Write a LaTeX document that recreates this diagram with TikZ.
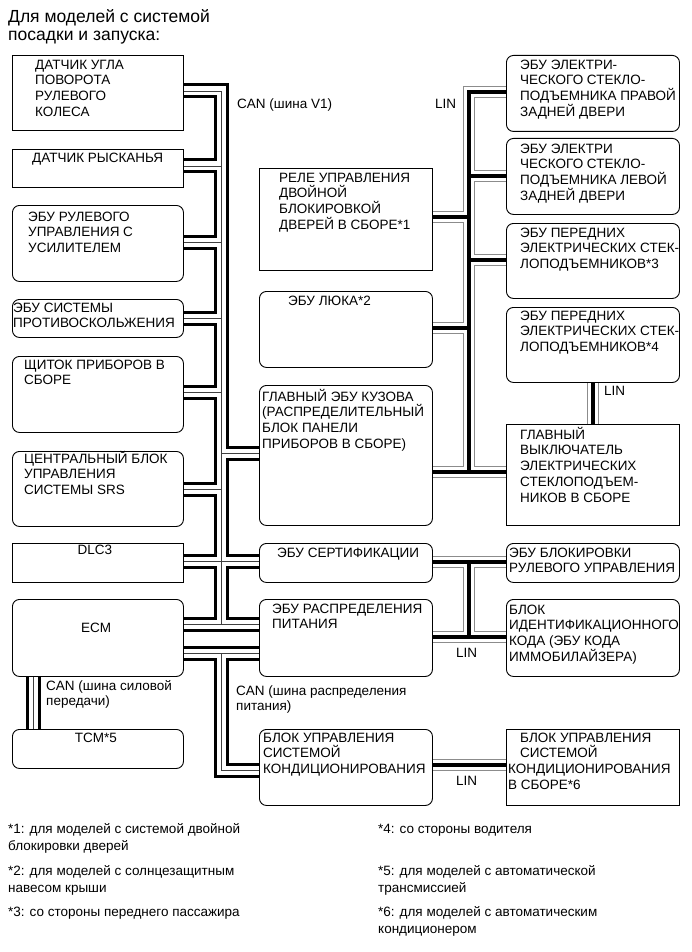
\documentclass[tikz,border=0pt]{standalone}
\usepackage{fontspec}
\setmainfont{Liberation Sans}
\usetikzlibrary{backgrounds}
\newcommand\bfs{\fontsize{13.5}{15.7}\selectfont}
\newcommand\Z{\rule{0pt}{13pt}}
\newcommand\ZT{\rule{0pt}{15pt}}
\begin{document}
\begin{tikzpicture}[x=1pt,y=-1pt,
 box/.style={draw=black, fill=white, line width=0.9pt, inner sep=0, anchor=north west},
 rbox/.style={box, rounded corners=7pt},
 txt/.style={anchor=north west, align=left, inner sep=0, font=\bfs},
 stxt/.style={anchor=base west, inner sep=0, font=\bfs},
 ctxt/.style={anchor=base, inner sep=0, font=\bfs},
 fn/.style={anchor=north west, align=left, inner sep=0, font=\fontsize{13.5}{17}\selectfont},
 ttl/.style={anchor=north west, align=left, inner sep=0, font=\fontsize{17.5}{18.5}\selectfont},
 canB/.style={line width=15pt, black},
 canW/.style={line width=9pt, white},
 canC/.style={line width=0.9pt, black!75},
 linB/.style={line width=12pt, black!45},
 linW/.style={line width=10.2pt, white},
 linC/.style={line width=3.6pt, black},
]
\useasboundingbox (0,0) rectangle (691,952);

% left column
\node[box,  minimum width=171pt, minimum height=75pt] (b1) at (12,55) {};
\node[box,  minimum width=171pt, minimum height=38pt] (b2) at (12,149) {};
\node[rbox, minimum width=171pt, minimum height=76pt] (b3) at (12,205) {};
\node[rbox, minimum width=171pt, minimum height=38pt] (b4) at (12,299) {};
\node[rbox, minimum width=171pt, minimum height=76pt] (b5) at (12,356) {};
\node[rbox, minimum width=171pt, minimum height=75pt] (b6) at (12,451) {};
\node[box,  minimum width=171pt, minimum height=39pt] (b7) at (12,543) {};
\node[rbox, minimum width=171pt, minimum height=77pt] (b8) at (12,599) {};
\node[rbox, minimum width=171pt, minimum height=39pt] (b9) at (12,729) {};
% middle column
\node[box,  minimum width=173pt, minimum height=102pt] (mA) at (259,168) {};
\node[rbox, minimum width=173pt, minimum height=76pt] (mB) at (259,291) {};
\node[rbox, minimum width=173pt, minimum height=140pt] (mC) at (259,385) {};
\node[rbox, minimum width=173pt, minimum height=39pt] (mD) at (259,543) {};
\node[rbox, minimum width=173pt, minimum height=77pt] (mE) at (259,599) {};
\node[rbox, minimum width=173pt, minimum height=76pt] (mF) at (259,729) {};
% right column
\node[rbox, minimum width=173pt, minimum height=76pt] (r1) at (506,55) {};
\node[rbox, minimum width=173pt, minimum height=76pt] (r2) at (506,138) {};
\node[rbox, minimum width=173pt, minimum height=75pt] (r3) at (506,223) {};
\node[rbox, minimum width=173pt, minimum height=75pt] (r4) at (506,307) {};
\node[box,  minimum width=173pt, minimum height=101pt] (r5) at (506,424) {};
\node[rbox, minimum width=173pt, minimum height=39pt] (r6) at (506,543) {};
\node[rbox, minimum width=173pt, minimum height=77pt] (r7) at (506,599) {};
\node[box,  minimum width=173pt, minimum height=76pt] (r8) at (506,729) {};

% texts
\node[ttl] (title) at (8,7) {\ZT Для моделей с системой\\посадки и запуска:};
\node[txt] (tb1) at (35,56) {\Z ДАТЧИК УГЛА\\ПОВОРОТА\\РУЛЕВОГО\\КОЛЕСА};
\node[txt] (tb2) at (32,149) {\Z ДАТЧИК РЫСКАНЬЯ};
\node[txt] (tb3) at (28,208) {\Z ЭБУ РУЛЕВОГО\\УПРАВЛЕНИЯ С\\УСИЛИТЕЛЕМ};
\node[txt] (tb4) at (13,299) {\Z ЭБУ СИСТЕМЫ\\ПРОТИВОСКОЛЬЖЕНИЯ};
\node[txt] (tb5) at (24,356) {\Z ЩИТОК ПРИБОРОВ В\\СБОРЕ};
\node[txt] (tb6) at (24,450) {\Z ЦЕНТРАЛЬНЫЙ БЛОК\\УПРАВЛЕНИЯ\\СИСТЕМЫ SRS};
\node[ctxt] (tb7) at (95,554) {DLC3};
\node[ctxt] (tb8) at (96,632) {ECM};
\node[ctxt] (tb9) at (96,742) {TCM*5};
\node[txt] (tmA) at (279,169) {\Z РЕЛЕ УПРАВЛЕНИЯ\\ДВОЙНОЙ\\БЛОКИРОВКОЙ\\ДВЕРЕЙ В СБОРЕ*1};
\node[txt] (tmB) at (288,292) {\Z ЭБУ ЛЮКА*2};
\node[txt] (tmC) at (262,388) {\Z ГЛАВНЫЙ ЭБУ КУЗОВА\\(РАСПРЕДЕЛИТЕЛЬНЫЙ\\БЛОК ПАНЕЛИ\\ПРИБОРОВ В СБОРЕ)};
\node[txt] (tmD) at (277,544) {\Z ЭБУ СЕРТИФИКАЦИИ};
\node[txt] (tmE) at (272,600) {\Z ЭБУ РАСПРЕДЕЛЕНИЯ\\ПИТАНИЯ};
\node[txt] (tmF) at (263,729) {\Z БЛОК УПРАВЛЕНИЯ\\СИСТЕМОЙ\\КОНДИЦИОНИРОВАНИЯ};
\node[txt] (tr1) at (520,56) {\Z ЭБУ ЭЛЕКТРИ-\\ЧЕСКОГО СТЕКЛО-\\ПОДЪЕМНИКА ПРАВОЙ\\ЗАДНЕЙ ДВЕРИ};
\node[txt] (tr2) at (520,140) {\Z ЭБУ ЭЛЕКТРИ\\ЧЕСКОГО СТЕКЛО-\\ПОДЪЕМНИКА ЛЕВОЙ\\ЗАДНЕЙ ДВЕРИ};
\node[txt] (tr3) at (520,224) {\Z ЭБУ ПЕРЕДНИХ\\ЭЛЕКТРИЧЕСКИХ СТЕК-\\ЛОПОДЪЕМНИКОВ*3};
\node[txt] (tr4) at (520,307) {\Z ЭБУ ПЕРЕДНИХ\\ЭЛЕКТРИЧЕСКИХ СТЕК-\\ЛОПОДЪЕМНИКОВ*4};
\node[txt] (tr5) at (520,426) {\Z ГЛАВНЫЙ\\ВЫКЛЮЧАТЕЛЬ\\ЭЛЕКТРИЧЕСКИХ\\СТЕКЛОПОДЪЕМ-\\НИКОВ В СБОРЕ};
\node[txt] (tr6) at (509,544) {\Z ЭБУ БЛОКИРОВКИ\\РУЛЕВОГО УПРАВЛЕНИЯ};
\node[txt] (tr7) at (509,601) {\Z БЛОК\\ИДЕНТИФИКАЦИОННОГО\\КОДА (ЭБУ КОДА\\ИММОБИЛАЙЗЕРА)};
\node[txt] (tr8) at (508,729) {\Z\hspace*{12pt}БЛОК УПРАВЛЕНИЯ\\\hspace*{12pt}СИСТЕМОЙ\\КОНДИЦИОНИРОВАНИЯ\\В СБОРЕ*6};

% bus labels
\node[stxt] (lcan1) at (237,109) {CAN (шина V1)};
\node[stxt] (llin1) at (435,109) {LIN};
\node[stxt] (llin2) at (604,395) {LIN};
\node[stxt] (llin3) at (456,657) {LIN};
\node[stxt] (llin4) at (456,785) {LIN};
\node[txt] (lcan2) at (46,677) {\Z CAN (шина силовой\\передачи)};
\node[txt] (lcan3) at (236,682) {\Z CAN (шина распределения\\питания)};

% footnotes
\node[fn] (f1) at (8,820) {\Z *1: для моделей с системой двойной\\блокировки дверей};
\node[fn] (f2) at (8,862) {\Z *2: для моделей с солнцезащитным\\навесом крыши};
\node[fn] (f3) at (8,903) {\Z *3: со стороны переднего пассажира};
\node[fn] (f4) at (378,820) {\Z *4: со стороны водителя};
\node[fn] (f5) at (378,862) {\Z *5: для моделей с автоматической\\трансмиссией};
\node[fn] (f6) at (378,903) {\Z *6: для моделей с автоматическим\\кондиционером};

\def\canpaths{(b1.east |- 0,91) -| (221.5,624)
 (b2.east |- 0,166) -- (221.5,166)
 (b3.east |- 0,242) -- (221.5,242)
 (b4.east |- 0,318) -- (221.5,318)
 (b5.east |- 0,392) -- (221.5,392)
 (b6.east |- 0,489) -- (221.5,489)
 (b7.east |- 0,561) -- (mD.west |- 0,561)
 (221.5,453) -- (mC.west |- 0,453)
 (b8.east |- 0,624) -- (mE.west |- 0,624)
 (b8.east |- 0,653) -- (mE.west |- 0,653)
 (221.5,653) |- (mF.west |- 0,770)
 (b8.south -| 33,0) -- (b9.north -| 33,0)}
\def\linpaths{(r1.west |- 0,92) -| (469,472)
 (469,176) -- (r2.west |- 0,176)
 (469,260) -- (r3.west |- 0,260)
 (mA.east |- 0,217) -- (469,217)
 (mB.east |- 0,328) -- (469,328)
 (mC.east |- 0,472) -- (r5.west |- 0,472)
 (r4.south -| 593,0) -- (r5.north -| 593,0)
 (mD.east |- 0,562) -- (r6.west |- 0,562)
 (469,562) -- (469,637)
 (mE.east |- 0,637) -- (r7.west |- 0,637)
 (mF.east |- 0,765) -- (r8.west |- 0,765)}

\begin{pgfonlayer}{background}
\draw[canB] \canpaths;
\draw[canW] \canpaths;
\draw[canC] \canpaths;
\draw[linB] \linpaths;
\draw[linW] \linpaths;
\draw[linC] \linpaths;
\end{pgfonlayer}
\end{tikzpicture}
\end{document}
